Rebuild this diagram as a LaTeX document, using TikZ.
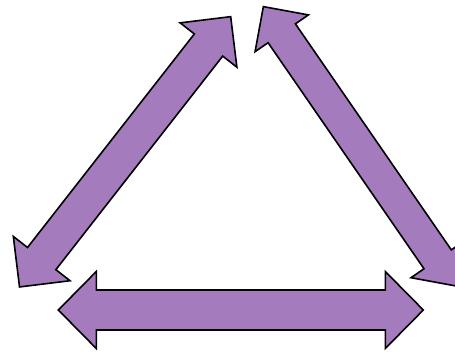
\documentclass[tikz,border=0pt]{standalone}
\usepackage{tikz}
\usepackage{xcolor}
\definecolor{arrowpurple}{RGB}{164,123,188}

\begin{document}
\begin{tikzpicture}[x=1pt,y=1pt,
		blockarrow/.style={draw=black,fill=arrowpurple,line width=1.6pt,line join=miter}]
		
		% Frame
		\useasboundingbox (0,0) rectangle (455,-351);
		\clip (0,0) rectangle (455,-351);
		
		% Double block arrows (centre x/centre y/angle/half length/head length/head half width/shaft half width)
		\foreach \cx/\cy/\ang/\len/\hd/\hw/\sw in {
			125.1/-151.8/52/171.5/36/36/18,
			359.7/-146.3/-55.4/169.7/32.4/32.4/16.6,
			240.8/-310/0/182.5/38/38.5/20}
		{
			\begin{scope}[shift={(\cx,\cy)},rotate=\ang]
				\draw[blockarrow] (-\len,0) -- (-\len+\hd,\hw) -- (-\len+\hd,\sw)
					-- (\len-\hd,\sw) -- (\len-\hd,\hw) -- (\len,0)
					-- (\len-\hd,-\hw) -- (\len-\hd,-\sw) -- (-\len+\hd,-\sw)
					-- (-\len+\hd,-\hw) -- cycle;
			\end{scope}
		}
		
	\end{tikzpicture}
\end{document}
